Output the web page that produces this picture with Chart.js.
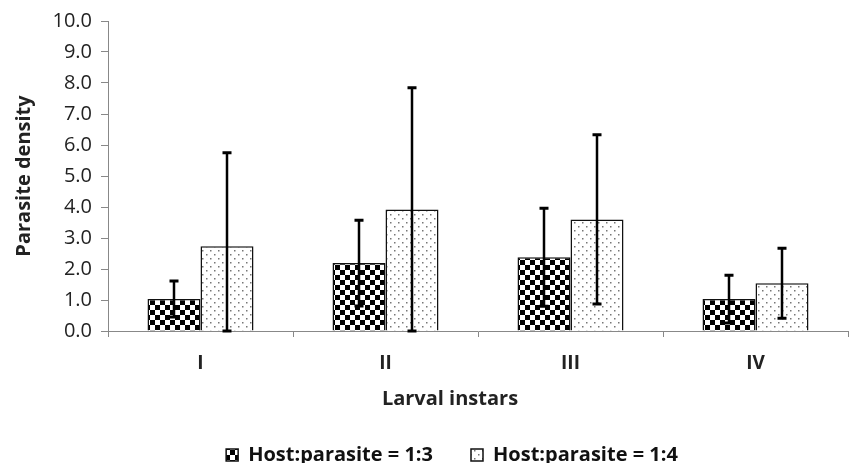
<!DOCTYPE html>
<html>
<head>
<meta charset="utf-8">
<script src="https://cdn.jsdelivr.net/npm/chart.js@4.4.1/dist/chart.umd.min.js"></script>
<style>
  html, body { margin: 0; padding: 0; background: #fff; }
  #wrap { width: 849px; height: 463px; position: relative; }
</style>
</head>
<body>
<div id="wrap"><canvas id="chart"></canvas></div>
<script>
// Дані графіка
const categories = ['I', 'II', 'III', 'IV'];
const seriesLabels = ['Host:parasite = 1:3', 'Host:parasite = 1:4'];
const ratio13 = [1.03, 2.19, 2.38, 1.03];
const ratio14 = [2.73, 3.92, 3.60, 1.54];
const sd13 = [0.58, 1.38, 1.58, 0.77];
const sd14 = [3.02, 3.93, 2.73, 1.13];
const yTicks = [0, 1, 2, 3, 4, 5, 6, 7, 8, 9, 10];
const xTitle = 'Larval instars';
const yTitle = 'Parasite density';

const FONT = "'Open Sans', 'DejaVu Sans', sans-serif";

// Візерунки заливки
function checkerPattern() {
    const c = document.createElement('canvas');
    c.width = 10; c.height = 10;
    const g = c.getContext('2d');
    g.fillStyle = '#fff';
    g.fillRect(0, 0, 10, 10);
    g.fillStyle = '#000';
    g.fillRect(0, 0, 5, 5);
    g.fillRect(5, 5, 5, 5);
    return g.createPattern(c, 'repeat');
}

function dotPattern() {
    const c = document.createElement('canvas');
    c.width = 8; c.height = 8;
    const g = c.getContext('2d');
    g.fillStyle = '#fff';
    g.fillRect(0, 0, 8, 8);
    g.fillStyle = '#777';
    g.fillRect(2, 2, 1.5, 1.5);
    g.fillRect(6, 6, 1.5, 1.5);
    return g.createPattern(c, 'repeat');
}

// Планки похибок
const errorBars = {
    id: 'errorBars',
    afterDatasetsDraw(chart) {
        const ctx = chart.ctx;
        const y = chart.scales.y;
        const sds = [sd13, sd14];
        ctx.save();
        ctx.strokeStyle = '#000';
        chart.data.datasets.forEach((ds, di) => {
            const meta = chart.getDatasetMeta(di);
            meta.data.forEach((bar, i) => {
                const v = ds.data[i];
                const top = y.getPixelForValue(v + sds[di][i]);
                const bottom = y.getPixelForValue(Math.max(0, v - sds[di][i]));
                ctx.lineWidth = 2.5;
                ctx.beginPath();
                ctx.moveTo(bar.x, top);
                ctx.lineTo(bar.x, bottom);
                ctx.stroke();
                ctx.lineWidth = 3;
                ctx.beginPath();
                ctx.moveTo(bar.x - 4.5, top);
                ctx.lineTo(bar.x + 4.5, top);
                ctx.moveTo(bar.x - 4.5, bottom);
                ctx.lineTo(bar.x + 4.5, bottom);
                ctx.stroke();
            });
        });
        ctx.restore();
    }
};

// Підпис осі X (зсунутий ліворуч, як в оригіналі)
const xAxisTitle = {
    id: 'xAxisTitle',
    afterDraw(chart) {
        const ctx = chart.ctx;
        const area = chart.chartArea;
        ctx.save();
        ctx.fillStyle = '#222';
        ctx.font = `bold 20px ${FONT}`;
        ctx.textAlign = 'center';
        ctx.textBaseline = 'middle';
        ctx.fillText(xTitle, (area.left + area.right) / 2 - 28, area.bottom + 68);
        ctx.restore();
    }
};

// Розмір і зсув легенди
const legendBox = {
    id: 'legendBox',
    beforeInit(chart) {
        const fit = chart.legend.fit;
        chart.legend.fit = function () {
            fit.call(this);
            this.height = 56;
        };
    },
    afterLayout(chart) {
        chart.legend.left += 28;
        chart.legend.right += 28;
    }
};

new Chart(document.getElementById('chart'), {
    type: 'bar',
    data: {
        labels: categories,
        datasets: [
            {
                label: seriesLabels[0],
                data: ratio13,
                backgroundColor: checkerPattern(),
                borderColor: '#111',
                borderWidth: 1.5,
                categoryPercentage: 0.573,
                barPercentage: 1
            },
            {
                label: seriesLabels[1],
                data: ratio14,
                backgroundColor: dotPattern(),
                borderColor: '#111',
                borderWidth: 1.5,
                categoryPercentage: 0.573,
                barPercentage: 1
            }
        ]
    },
    options: {
        responsive: true,
        maintainAspectRatio: false,
        animation: false,
        layout: { padding: { top: 9, right: 1, left: 0, bottom: 0 } },
        plugins: {
            tooltip: { enabled: false },
            legend: {
                position: 'bottom',
                labels: {
                    boxWidth: 12,
                    boxHeight: 12,
                    padding: 38,
                    color: '#111',
                    font: { family: FONT, size: 20, weight: 'bold' }
                }
            }
        },
        scales: {
            x: {
                grid: { display: true, drawOnChartArea: false, offset: true, tickLength: 6, color: '#888' },
                border: { color: '#888', width: 1 },
                ticks: { color: '#222', padding: 15, font: { family: FONT, size: 19, weight: 'bold' } },
                title: { display: false, text: xTitle },
                afterFit(scale) { scale.height = 76; }
            },
            y: {
                min: 0,
                max: 10,
                afterBuildTicks(scale) { scale.ticks = yTicks.map(v => ({ value: v })); },
                grid: { display: true, drawOnChartArea: false, tickLength: 7, color: '#888' },
                border: { color: '#888', width: 1 },
                ticks: {
                    color: '#222',
                    padding: 9,
                    font: { family: FONT, size: 20 },
                    callback: v => v.toFixed(1)
                },
                title: {
                    display: true,
                    text: yTitle,
                    color: '#222',
                    padding: { top: 12, bottom: 0 },
                    font: { family: FONT, size: 20, weight: 'bold' }
                },
                afterFit(scale) { scale.width = 108; }
            }
        }
    },
    plugins: [errorBars, xAxisTitle, legendBox]
});
</script>
</body>
</html>
